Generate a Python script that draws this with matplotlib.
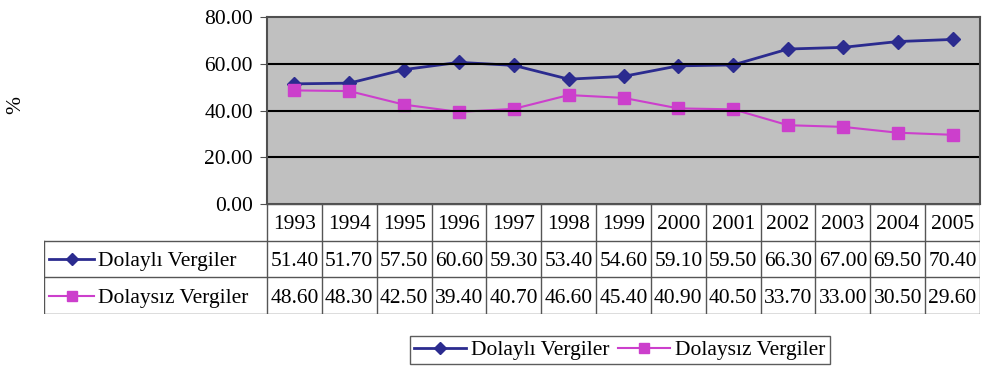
import matplotlib.pyplot as plt
from matplotlib.lines import Line2D

plt.rcParams['font.family'] = ['Liberation Serif', 'DejaVu Serif']

years = [1993, 1994, 1995, 1996, 1997, 1998, 1999, 2000, 2001, 2002, 2003, 2004, 2005]
dolayli = [51.4, 51.7, 57.5, 60.6, 59.3, 53.4, 54.6, 59.1, 59.5, 66.3, 67.0, 69.5, 70.4]
dolaysiz = [48.6, 48.3, 42.5, 39.4, 40.7, 46.6, 45.4, 40.9, 40.5, 33.7, 33.0, 30.5, 29.6]
series_names = ['Dolaylı Vergiler', 'Dolaysız Vergiler']
yticks = [0, 20, 40, 60, 80]

blue = '#2b2b8f'
pink = '#cc3fcc'
fs = 15.5

W, H = 982, 367
fig = plt.figure(figsize=(W / 100, H / 100), dpi=100)

def box(x0, y0, x1, y1):
    # pixel box (top-left origin) -> figure fraction rect
    return [x0 / W, 1 - y1 / H, (x1 - x0) / W, (y1 - y0) / H]

px_left, px_right = 267, 980
ax = fig.add_axes(box(px_left, 17, px_right, 204))
ax.set_facecolor('#c0c0c0')
x = list(range(len(years)))
ax.plot(x, dolayli, color=blue, lw=2, marker='D', ms=7, label=series_names[0])
ax.plot(x, dolaysiz, color=pink, lw=1.5, marker='s', ms=8, label=series_names[1])
ax.set_xlim(-0.5, len(years) - 0.5)
ax.set_ylim(0, 80)
ax.set_yticks(yticks)
ax.set_yticklabels([f'{v:.2f}' for v in yticks], fontsize=fs)
ax.set_xticks([])
for v in yticks[1:-1]:
    ax.axhline(v, color='black', lw=1.5)
for s in ax.spines.values():
    s.set_color('#505050')
    s.set_linewidth(1.5)
ax.tick_params(axis='y', length=5, color='#505050', pad=5)
fig.text(16 / W, 1 - 105 / H, '%', rotation=90, ha='center', va='center', fontsize=fs)

# data table under the plot
col_w = (px_right - px_left) / len(years)
lab_units = (px_left - 44) / col_w
tab = fig.add_axes(box(44, 204, px_right, 314))
tab.set_xlim(-0.5 - lab_units, len(years) - 0.5)
tab.set_ylim(3, 0)
tab.axis('off')
lc = '#555555'
# horizontal rules
tab.plot([-0.5, len(years) - 0.5], [0, 0], color=lc, lw=1)
for r in (1, 2, 3):
    tab.plot([-0.5 - lab_units, len(years) - 0.5], [r, r], color=lc, lw=1)
# vertical rules
tab.plot([-0.5 - lab_units] * 2, [1, 3], color=lc, lw=1)
for c in range(len(years) + 1):
    tab.plot([c - 0.5] * 2, [0, 3], color=lc, lw=1)
tkw = dict(ha='center', va='center_baseline', fontsize=fs)
for i, yr in enumerate(years):
    tab.text(i, 0.5, str(yr), **tkw)
    tab.text(i, 1.5, f'{dolayli[i]:.2f}', **tkw)
    tab.text(i, 2.5, f'{dolaysiz[i]:.2f}', **tkw)
# row keys
k0 = -0.5 - lab_units + 0.1
tab.plot([k0, k0 + 0.82], [1.5, 1.5], color=blue, lw=2)
tab.plot([k0 + 0.41], [1.5], color=blue, marker='D', ms=6)
tab.plot([k0, k0 + 0.82], [2.5, 2.5], color=pink, lw=1.5)
tab.plot([k0 + 0.41], [2.5], color=pink, marker='s', ms=7)
tab.text(k0 + 0.88, 1.5, series_names[0], ha='left', va='center_baseline', fontsize=fs)
tab.text(k0 + 0.88, 2.5, series_names[1], ha='left', va='center_baseline', fontsize=fs)

handles = [Line2D([], [], color=blue, lw=2, marker='D', ms=6),
           Line2D([], [], color=pink, lw=1.5, marker='s', ms=7)]
leg = fig.legend(handles, series_names, loc='center', ncol=2,
                 bbox_to_anchor=(620 / W, 1 - 350 / H), fontsize=fs,
                 frameon=True, fancybox=False, edgecolor='#333333',
                 handlelength=2.4, handletextpad=0.25, columnspacing=0.4,
                 borderpad=0.2, borderaxespad=0)
leg.get_frame().set_linewidth(1)

fig.savefig('out.png', dpi=100)
